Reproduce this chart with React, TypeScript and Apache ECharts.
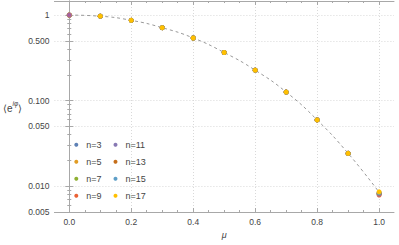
import React, { useEffect, useRef } from "react";
import * as echarts from "echarts";

const mu = [0, 0.1, 0.2, 0.3, 0.4, 0.5, 0.6, 0.7, 0.8, 0.9, 1.0];
const seriesNames = ["n=3", "n=5", "n=7", "n=9", "n=11", "n=13", "n=15", "n=17"];
const colors = ["#5E81B5", "#E19C24", "#8FB032", "#EB6235", "#8778B3", "#C56E1A", "#5D9EC7", "#FFBF00"];
const n3 = [1, 0.97, 0.868, 0.712, 0.54, 0.365, 0.227, 0.126, 0.0595, 0.0242, 0.0082];
const n5 = [1, 0.97, 0.868, 0.712, 0.54, 0.365, 0.227, 0.126, 0.0595, 0.0242, 0.0083];
const n7 = [1, 0.97, 0.868, 0.712, 0.54, 0.365, 0.227, 0.126, 0.0595, 0.0242, 0.0081];
const n9 = [1, 0.97, 0.868, 0.712, 0.54, 0.365, 0.227, 0.126, 0.0595, 0.0242, 0.0079];
const n11 = [1, 0.97, 0.868, 0.712, 0.54, 0.365, 0.227, 0.126, 0.0595, 0.0242, 0.0081];
const n13 = [1, 0.97, 0.868, 0.712, 0.54, 0.365, 0.227, 0.126, 0.0595, 0.0242, 0.0083];
const n15 = [1, 0.97, 0.868, 0.712, 0.54, 0.365, 0.227, 0.126, 0.0595, 0.0242, 0.0084];
const n17 = [1, 0.97, 0.868, 0.712, 0.54, 0.365, 0.227, 0.126, 0.0595, 0.0242, 0.0086];
const theory = [1, 0.97, 0.868, 0.712, 0.54, 0.365, 0.227, 0.126, 0.0595, 0.0242, 0.0085];
const exactMu = [0];
const exactValue = [1];
const allValues = [n3, n5, n7, n9, n11, n13, n15, n17];

const xMajor = [0, 0.2, 0.4, 0.6, 0.8, 1.0];
const xMinor = [0.05, 0.1, 0.15, 0.25, 0.3, 0.35, 0.45, 0.5, 0.55, 0.65, 0.7, 0.75, 0.85, 0.9, 0.95];
const yMajor = [0.005, 0.01, 0.05, 0.1, 0.5, 1];
const yMinor = [0.006, 0.007, 0.008, 0.009, 0.02, 0.03, 0.04, 0.06, 0.07, 0.08, 0.09, 0.2, 0.3, 0.4, 0.6, 0.7, 0.8, 0.9];

const FONT = "'Liberation Sans', Arial, sans-serif";
const AXIS_COLOR = "#a8a8a8";
const TEXT_COLOR = "#444";

export default function App() {
  const ref = useRef<HTMLDivElement>(null);
  useEffect(() => {
    if (!ref.current) return;
    const chart = echarts.init(ref.current, null, { renderer: "svg" });
    const X_MIN = -0.048;
    const X_MAX = 1.048;
    const Y_MIN = 0.005;
    const Y_MAX = 1.46;

    const xAx = (pos: string, ticks: number[], len: number, main: boolean) => ({
      type: "value",
      position: pos,
      min: X_MIN,
      max: X_MAX,
      axisLine: { show: main, lineStyle: { color: AXIS_COLOR, width: 1 } },
      axisTick: { show: true, inside: true, length: len, customValues: ticks, lineStyle: { color: AXIS_COLOR } },
      axisLabel: main && pos === "bottom"
        ? { show: true, customValues: ticks, formatter: (v: number) => v.toFixed(1), fontSize: 8.5, color: TEXT_COLOR, fontFamily: FONT, margin: 5 }
        : { show: false },
      splitLine: main && pos === "bottom"
        ? { show: true, lineStyle: { color: "#d9d9d9", type: [1, 2], width: 1 } }
        : { show: false },
      name: main && pos === "bottom" ? "μ" : "",
      nameLocation: "middle",
      nameGap: 18,
      nameTextStyle: { fontSize: 9, fontStyle: "italic", color: TEXT_COLOR, fontFamily: FONT },
    });

    const yFmt = (v: number) => (v === 1 ? "1" : v.toFixed(3));

    const yAx = (pos: string, ticks: number[], len: number, main: boolean) => ({
      type: "log",
      logBase: 10,
      position: pos,
      min: Y_MIN,
      max: Y_MAX,
      axisLine: { show: main, lineStyle: { color: AXIS_COLOR, width: 1 } },
      axisTick: { show: true, inside: true, length: len, customValues: ticks, lineStyle: { color: AXIS_COLOR } },
      axisLabel: main && pos === "left"
        ? { show: true, customValues: ticks, formatter: yFmt, fontSize: 8.5, color: TEXT_COLOR, fontFamily: FONT, margin: 5 }
        : { show: false },
      splitLine: main && pos === "left"
        ? { show: true, lineStyle: { color: "#d9d9d9", type: [1, 2], width: 1 } }
        : { show: false },
      minorTick: { show: false },
      minorSplitLine: { show: false },
      name: main && pos === "left" ? "{a|⟨e}{b|iφ}{a|⟩}" : "",
      nameLocation: "middle",
      nameRotate: 0,
      nameGap: 30,
      nameTextStyle: {
        color: TEXT_COLOR,
        fontFamily: FONT,
        rich: {
          a: { fontSize: 10, lineHeight: 13, verticalAlign: "bottom", color: TEXT_COLOR, fontFamily: FONT },
          b: { fontSize: 6.5, lineHeight: 8, verticalAlign: "top", color: TEXT_COLOR, fontFamily: FONT, fontStyle: "italic" },
        },
      },
    });

    const scatter = seriesNames.map((name, i) => ({
      name,
      type: "scatter",
      xAxisIndex: 0,
      yAxisIndex: 0,
      symbol: "circle",
      symbolSize: 5,
      itemStyle: { color: colors[i], opacity: 1 },
      z: 3,
      data: mu.map((m, j) => [m, allValues[i][j]]),
    }));

    const legendBase = {
      orient: "vertical",
      top: 139.7,
      padding: 0,
      itemGap: 7,
      itemWidth: 10,
      itemHeight: 4,
      icon: "circle",
      textStyle: { fontSize: 9, lineHeight: 10, color: TEXT_COLOR, fontFamily: FONT, padding: [0, 0, 0, 0] },
      selectedMode: false,
    };

    chart.setOption({
      animation: false,
      backgroundColor: "#ffffff",
      grid: { left: 51, right: 5, top: 1, bottom: 33, containLabel: false },
      legend: [
        { ...legendBase, left: 74.3, data: seriesNames.slice(0, 4) },
        { ...legendBase, left: 113.5, data: seriesNames.slice(4) },
      ],
      xAxis: [
        xAx("bottom", xMajor, 4, true),
        xAx("bottom", xMinor, 2, false),
        xAx("top", xMajor, 4, true),
        xAx("top", xMinor, 2, false),
      ],
      yAxis: [
        yAx("left", yMajor, 4, true),
        yAx("left", yMinor, 2, false),
        yAx("right", yMajor, 4, true),
        yAx("right", yMinor, 2, false),
      ],
      series: [
        {
          name: "theory",
          type: "line",
          xAxisIndex: 0,
          yAxisIndex: 0,
          smooth: true,
          symbol: "none",
          z: 2,
          lineStyle: { color: "#9a9a9a", width: 1, type: [3, 3] },
          data: mu.map((m, j) => [m, theory[j]]),
        },
        ...scatter,
        {
          name: "exact",
          type: "scatter",
          xAxisIndex: 0,
          yAxisIndex: 0,
          symbol: "circle",
          symbolSize: 5,
          z: 4,
          itemStyle: { color: "#A5609D", opacity: 1 },
          data: exactMu.map((m, j) => [m, exactValue[j]]),
        },
      ],
    });
    return () => chart.dispose();
  }, []);
  return (
    <div
      ref={ref}
      style={{ position: "fixed", left: 0, top: 0, width: 399, height: 245, background: "#fff" }}
    />
  );
}
